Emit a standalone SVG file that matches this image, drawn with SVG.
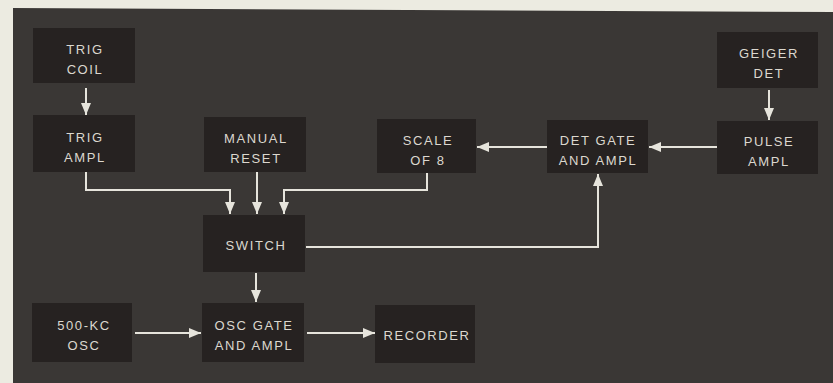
<svg xmlns="http://www.w3.org/2000/svg" width="833" height="383" viewBox="0 0 833 383">
<style>
.box{fill:#262221}
.lbl{font-family:"Liberation Sans",Arial,sans-serif;font-size:13px;letter-spacing:1.6px;fill:#dcd8cf;text-anchor:middle}
.wire{fill:none;stroke:#e6e4dc;stroke-width:2}
</style>
<defs>
<marker id="ah" markerUnits="userSpaceOnUse" markerWidth="14" markerHeight="12" refX="12" refY="5.5" orient="auto">
<path d="M0,0.5 L12,5.5 L0,10.5 Z" fill="#e6e4dc"/>
</marker>
</defs>
<rect x="0" y="0" width="833" height="383" fill="#ecebe1"/>
<polygon points="13,8 833,12 833,383 13,383" fill="#3a3735"/>
<g id="trig_coil"><rect class="box" x="33" y="28" width="102" height="55"/><text class="lbl" x="85" y="54">TRIG</text><text class="lbl" x="85" y="74">COIL</text></g>
<g id="trig_ampl"><rect class="box" x="33" y="115" width="102" height="57"/><text class="lbl" x="85" y="142">TRIG</text><text class="lbl" x="85" y="162">AMPL</text></g>
<g id="manual_reset"><rect class="box" x="204" y="117" width="102" height="55"/><text class="lbl" x="256" y="143">MANUAL</text><text class="lbl" x="256" y="163">RESET</text></g>
<g id="scale_of_8"><rect class="box" x="377" y="119" width="99" height="54"/><text class="lbl" x="428" y="145">SCALE</text><text class="lbl" x="428" y="165">OF 8</text></g>
<g id="det_gate"><rect class="box" x="547" y="120" width="101" height="53"/><text class="lbl" x="598" y="145">DET GATE</text><text class="lbl" x="598" y="165">AND AMPL</text></g>
<g id="pulse_ampl"><rect class="box" x="717" y="121" width="101" height="53"/><text class="lbl" x="769" y="146">PULSE</text><text class="lbl" x="769" y="166">AMPL</text></g>
<g id="geiger_det"><rect class="box" x="717" y="32" width="101" height="56"/><text class="lbl" x="769" y="58">GEIGER</text><text class="lbl" x="769" y="78">DET</text></g>
<g id="switch"><rect class="box" x="203" y="215" width="102" height="57"/><text class="lbl" x="256" y="250">SWITCH</text></g>
<g id="osc_500kc"><rect class="box" x="32" y="303" width="100" height="59"/><text class="lbl" x="84" y="330">500-KC</text><text class="lbl" x="84" y="350">OSC</text></g>
<g id="osc_gate"><rect class="box" x="202" y="303" width="102" height="59"/><text class="lbl" x="254" y="330">OSC GATE</text><text class="lbl" x="254" y="350">AND AMPL</text></g>
<g id="recorder"><rect class="box" x="375" y="305" width="100" height="58"/><text class="lbl" x="427" y="340">RECORDER</text></g>
<g id="connectors">
<path class="wire" d="M86,88 V115" marker-end="url(#ah)"/>
<path class="wire" d="M769,90 V120" marker-end="url(#ah)"/>
<path class="wire" d="M717,147 H649" marker-end="url(#ah)"/>
<path class="wire" d="M547,147 H477" marker-end="url(#ah)"/>
<path class="wire" d="M86,172 V190 H230 V214" marker-end="url(#ah)"/>
<path class="wire" d="M257,172 V214" marker-end="url(#ah)"/>
<path class="wire" d="M427,173 V190 H284 V214" marker-end="url(#ah)"/>
<path class="wire" d="M306,247 H598 V174" marker-end="url(#ah)"/>
<path class="wire" d="M256,273 V302" marker-end="url(#ah)"/>
<path class="wire" d="M135,333 H201" marker-end="url(#ah)"/>
<path class="wire" d="M307,333 H375" marker-end="url(#ah)"/>
</g>
</svg>
